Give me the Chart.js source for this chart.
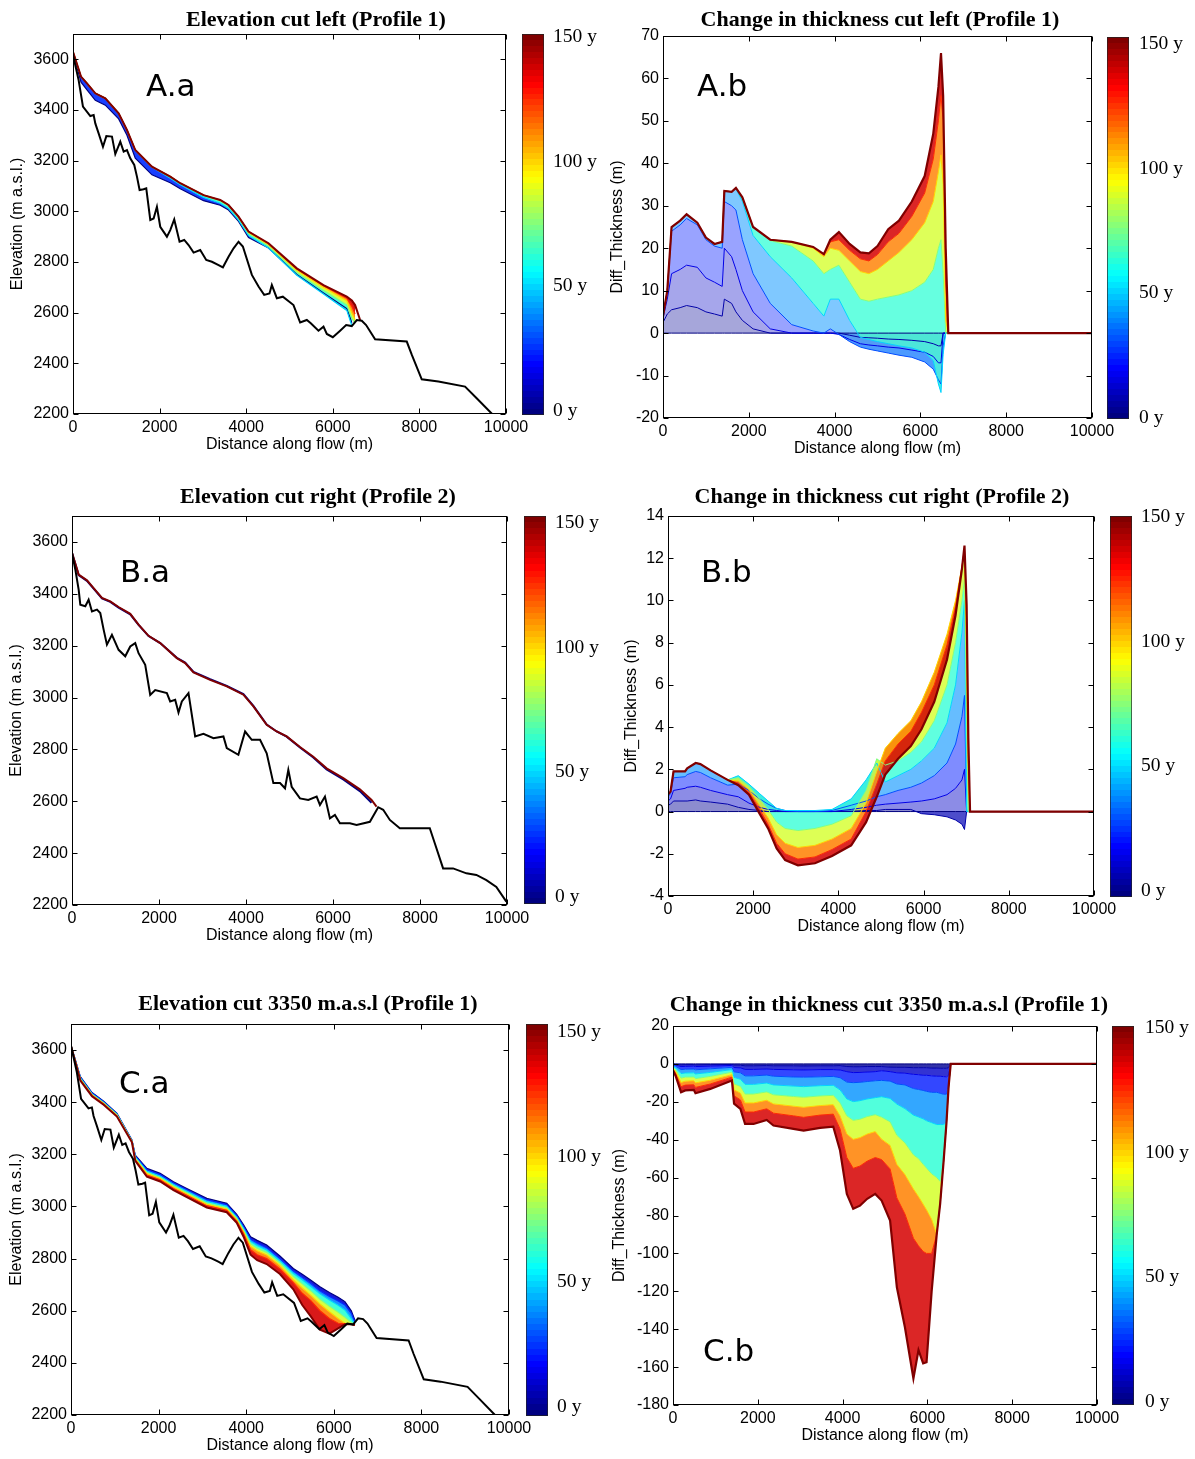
<!DOCTYPE html>
<html><head><meta charset="utf-8">
<script src="https://cdn.jsdelivr.net/npm/chart.js@4.4.1/dist/chart.umd.min.js"></script>
<style>
html,body{margin:0;padding:0;background:#fff;}
body{width:1195px;height:1459px;position:relative;overflow:hidden;}
canvas{position:absolute;}
</style></head><body>
<script>
// ---------------- DATA ----------------
const distTicks = [0, 2000, 4000, 6000, 8000, 10000];
const elevTicks = [2200, 2400, 2600, 2800, 3000, 3200, 3400, 3600];
const thickTicksA = [-20, -10, 0, 10, 20, 30, 40, 50, 60, 70];
const thickTicksB = [-4, -2, 0, 2, 4, 6, 8, 10, 12, 14];
const thickTicksC = [-180, -160, -140, -120, -100, -80, -60, -40, -20, 0, 20];
const cbTicks = [0, 50, 100, 150];
const yearsFan = [0, 6, 15, 30, 50, 75, 100, 125, 150];

// bedrock, profile 1
const bedX1 = [0,130,230,400,477,515,592,692,770,900,977,1092,1170,1246,1323,1415,1477,1538,1630,1692,1785,1862,1938,2015,2169,2246,2338,2461,2569,2669,2785,2938,3077,3208,3362,3462,3592,3708,3823,3923,4131,4285,4415,4538,4592,4708,4846,5092,5246,5400,5492,5669,5785,5862,6000,6169,6308,6438,6554,6669,6769,6977,7708,7823,8054,8438,9054,9323,9680];
const bedY1 = [3617,3518,3413,3376,3380,3347,3308,3255,3297,3295,3226,3275,3236,3242,3209,3183,3137,3084,3087,3091,2966,2972,3018,2939,2900,2926,2968,2880,2887,2867,2837,2847,2808,2801,2788,2779,2821,2854,2880,2861,2749,2703,2670,2676,2709,2657,2663,2630,2561,2571,2558,2529,2545,2516,2503,2529,2551,2547,2571,2568,2551,2495,2486,2434,2337,2328,2308,2262,2200];
// bedrock, profile 2
const bedX2 = [0,77,153,191,306,382,459,574,650,727,803,918,1071,1224,1339,1454,1530,1683,1798,1913,2181,2257,2372,2448,2525,2678,2831,3022,3252,3481,3558,3825,3979,4132,4323,4476,4629,4782,4897,4973,5050,5241,5432,5624,5700,5815,5929,6044,6159,6389,6542,6848,7039,7154,7307,7536,7919,8225,8340,8531,8761,9067,9296,9526,9755,9985];
const bedY2 = [3558,3493,3416,3358,3352,3377,3332,3339,3326,3262,3204,3242,3184,3159,3197,3210,3171,3126,3010,3029,3017,2985,2991,2942,2985,3017,2850,2860,2843,2850,2805,2779,2869,2837,2837,2785,2670,2670,2650,2721,2656,2611,2605,2618,2586,2618,2534,2547,2515,2515,2509,2521,2577,2567,2528,2496,2496,2496,2438,2341,2341,2322,2316,2296,2270,2213];

// A.a surfaces (years 0,50,75,100,125,150)
const yearsSurfA = [0, 50, 75, 100, 125, 150];
const xSA = [0,185,323,515,746,1054,1246,1438,1823,2246,2477,3015,3400,3592,3823,4054,4515,5169,5785,6323,6440,6515,6631];
const surfA0   = [3626,3510,3479,3438,3419,3365,3300,3210,3144,3113,3089,3042,3024,3005,2960,2897,2855,2751,2678,2616,2560,null,null];
const surfA50  = [3630,3532,3505,3466,3446,3387,3321,3241,3175,3131,3105,3055,3032,3011,2965,2904,2855,2748,2674,2609,2548,null,null];
const surfA75  = [3630,3532,3505,3466,3446,3387,3321,3242,3176,3137,3111,3063,3041,3021,2974,2913,2863,2759,2688,2631,2578,2558,null];
const surfA100 = [3630,3532,3505,3466,3446,3387,3321,3242,3176,3137,3111,3064,3044,3025,2978,2916,2869,2767,2700,2647,2600,2572,null];
const surfA125 = [3630,3532,3505,3466,3446,3387,3321,3242,3176,3137,3111,3064,3045,3025,2979,2920,2872,2772,2706,2657,2625,2595,null];
const surfA150 = [3630,3532,3505,3466,3446,3387,3321,3242,3176,3137,3111,3064,3045,3025,2979,2920,2874,2775,2709,2663,2648,2630,2571];

// A.b thickness change (m)
const xA = [0,100,200,400,550,800,1000,1200,1380,1430,1600,1700,1850,2100,2500,3000,3500,3750,3900,4100,4350,4600,4800,5000,5250,5500,5800,6100,6300,6420,6480,6530,6590,6650,10000];
const thickA_y0   = [0,0,0,0,0,0,0,0,0,0,0,0,0,0,0,0,0,0,0,0,0,0,0,0,0,0,0,0,0,0,0,0,0,0,0];
const thickA_y6   = [2.5,4.5,5.5,6,6.5,6,5,4.5,4, 8,7,5,3,1,0,0,0,0, 0,0,-0.5,-1,-1.1,-1.2,-1.4,-1.5,-1.7,-2,-2.5,-3,-3,0,0,0,0];
const thickA_y15  = [3.5,8,14,15,16,15.5,13,12,11, 20,18,15,10,5,1,0,0,0, 0,-0.3,-1.5,-2.5,-2.8,-3,-3.3,-3.5,-4,-4.5,-5.5,-7,-7,0,0,0,0];
const thickA_y30  = [4,10,24,25.5,27,25.5,22,20.5,20, 31,30,29,22,14,7,2,0.5,0, 1,-0.3,-2,-3.3,-3.8,-4.2,-4.7,-5.2,-5.7,-6.8,-8.5,-11,-12,-3,0,0,0];
const thickA_y50  = [4,10,25,26.5,28,26,22.5,21,21.5, 33.5,33.3,34,31,23,18,13,7,4, 8,8,3,-1,-1.5,-2,-2.5,-3,-3.5,-4.5,-6.5,-12,-14,-5,0,0,0];
const thickA_y75  = [4,10,25,26.5,28,26,22.5,21,21.5, 33.5,33.3,34.2,32,25,21.8,20.5,17,14, 15,16,12,8,7.5,8,8.5,9,10,12,15,20,22,14,0,0,0];
const thickA_y100 = [4,10,25,26.5,28,26,22.5,21,21.5, 33.5,33.3,34.2,32,25,22,21.5,20,18, 20,19.5,17,14.5,14,15,17,19,22,26,31,38,42,35,3,0,0];
const thickA_y125 = [4,10,25,26.5,28,26,22.5,21,21.5, 33.5,33.3,34.2,32,25,22,21.5,20.3,18.6, 21.5,22,19.5,17.5,17,18.5,21.5,23.5,27.5,33,41,50,56,50,12,0,0];
const thickA_y150 = [4,10,25,26.5,28,26,22.5,21,21.5, 33.5,33.3,34.2,32,25,22,21.5,20.3,18.6, 22,23.8,21,19,18.8,20.5,24.5,26.5,31,37,47,58,66,56,20,0,0];

// B.a surfaces
const yearsSurfB = [0, 150];
const xSB = [0,153,344,497,689,880,1071,1339,1530,1760,2028,2410,2601,2793,3175,3558,3940,4170,4476,4705,4935,5241,5547,5853,6236,6618,6886,7001];
const surfB0   = [3557,3472,3450,3420,3382,3369,3347,3321,3280,3237,3210,3153,3135,3099,3071,3045,3013,2968,2896,2869,2849,2807,2769,2723,2684,2639,2594,null];
const surfB150 = [3558,3474,3452,3422,3384,3371,3349,3323,3281,3238,3210,3152,3133,3097,3068,3043,3011,2966,2895,2869,2850,2809,2772,2727,2689,2646,2605,2579];

// B.b thickness change (m)
const xB = [0,60,130,400,450,650,760,1000,1400,1650,1900,2150,2350,2550,2750,3050,3450,3850,4300,4650,4900,5100,5400,5700,5950,6250,6550,6750,6900,6960,7010,7050,7090,10000];
const thickB_y0   = [0,0,0,0,0,0,0,0,0,0,0,0,0,0,0,0,0,0,0,0,0,0,0,0,0,0,0,0,0,0,0,0,0,0];
const thickB_y6   = [0.3,0.35,0.5,0.5,0.5,0.55,0.5,0.45,0.35, 0.2,0.1,0.05,0,0,0,0,0,0,0.02,0.05,0.05, 0.1,0.1,0.1,-0.1,-0.15,-0.25,-0.4,-0.6,-0.85,0,0,0,0];
const thickB_y15  = [0.5,0.6,1.0,1.1,1.15,1.2,1.15,1.0,0.8, 0.7,0.4,0.2,0.1,0.05,0,0,0,0,0.1,0.2,0.3, 0.35,0.4,0.45,0.5,0.6,0.8,1.1,1.5,2,0,0,0,0];
const thickB_y30  = [0.7,0.85,1.6,1.65,1.75,1.9,1.85,1.6,1.25, 1.3,1.0,0.6,0.35,0.15,0.05,0,0,0.05,0.3,0.5,0.7, 0.8,1.0,1.15,1.35,1.7,2.3,3.2,4.5,5.5,0,0,0,0];
const thickB_y50  = [0.8,0.95,1.9,1.9,2.05,2.3,2.25,1.95,1.5, 1.7,1.3,0.85,0.5,0.15,0.05,0.05,0.05,0.1,0.6,1.5,2.3, 1.4,1.7,2.0,2.4,3.0,4.2,6.0,8.5,10,0,0,0,0];
const thickB_y75  = [0.8,0.95,1.9,1.9,2.05,2.3,2.25,1.95,1.5, 1.6,1.2,0.6,0.1,-0.5,-0.8,-0.9,-0.8,-0.6,-0.2,1.0,2.5, 2.2,2.4,2.8,3.3,4.3,6.0,8.0,10.0,11,4,0,0,0];
const thickB_y100 = [0.8,0.95,1.9,1.9,2.05,2.3,2.25,1.95,1.5, 1.45,1.05,0.3,-0.3,-1.1,-1.5,-1.7,-1.6,-1.3,-0.8,0.4,1.9, 3.0,3.7,4.3,5.2,6.6,8.4,10.0,11.6,12.2,7,1,0,0];
const thickB_y125 = [0.8,0.95,1.9,1.9,2.05,2.3,2.25,1.95,1.5, 1.35,0.9,0.1,-0.6,-1.5,-2.0,-2.25,-2.15,-1.8,-1.3,0.0,1.3, 2.4,3.2,3.8,4.7,6.0,7.9,9.7,11.6,12.5,9,2.5,0,0];
const thickB_y150 = [0.8,0.95,1.9,1.9,2.05,2.3,2.25,1.95,1.5, 1.25,0.8,-0.1,-0.8,-1.75,-2.3,-2.55,-2.45,-2.1,-1.6,-0.5,0.7, 1.75,2.5,3.1,3.9,5.2,7.2,9.3,11.5,12.6,9.8,3.5,0,0];

// C.a surfaces (years 0,25,50,75,100,125,150)
const yearsSurfC = [0, 25, 50, 75, 100, 125, 150];
const xSC = [0,213,479,745,1049,1391,1467,1733,2036,2340,2644,3100,3556,3784,3940,4100,4250,4468,4770,5076,5280,5470,5684,5900,6100,6254,6400,6482];
const surfC0   = [3619,3498,3437,3404,3357,3255,3197,3146,3127,3095,3069,3031,3012,2970,2930,2884,2870,2852,2810,2762,2740,2718,2692,2670,2652,2635,2600,2564];
const surfC25  = [3618,3496,3435,3402,3355,3254,3194,3141,3122,3090,3064,3026,3007,2965,2923,2875,2860,2842,2800,2752,2728,2705,2677,2655,2637,2622,2590,2557];
const surfC50  = [3618,3493,3432,3399,3353,3252,3190,3135,3116,3084,3058,3019,3001,2959,2916,2866,2850,2833,2792,2744,2719,2694,2665,2641,2621,2603,2570,2548];
const surfC75  = [3617,3490,3430,3397,3351,3251,3186,3130,3111,3079,3053,3013,2995,2954,2910,2857,2840,2824,2783,2731,2703,2677,2644,2617,2594,2575,2555,2545];
const surfC100 = [3617,3488,3428,3395,3349,3249,3183,3126,3107,3075,3048,3008,2990,2949,2903,2847,2830,2814,2774,2719,2687,2660,2626,2596,2570,2552,2550,2545];
const surfC125 = [3616,3486,3426,3393,3347,3248,3179,3120,3102,3069,3043,3003,2985,2944,2896,2834,2815,2800,2760,2708,2667,2640,2600,2570,2552,2550,2548,2545];
const surfC150 = [3615,3483,3423,3390,3345,3246,3175,3114,3096,3063,3036,2996,2978,2937,2884,2815,2794,2779,2741,2682,2622,2579,2527,2512,2532,2548,2548,2545];

// C.b thickness change (m)
const xC = [0,60,190,290,490,530,880,1390,1440,1590,1700,1900,2210,2370,2840,3080,3470,3780,3940,4100,4250,4410,4580,4770,4920,5120,5280,5470,5670,5790,5900,5980,6100,6220,6300,6380,6450,6500,6550,10000];
const thickC_y0   = [0,0,0,0,0,0,0,0,0,0,0,0,0,0,0,0,0,0,0,0,0,0,0,0,0,0,0,0,0,0,0,0,0,0,0,0,0,0,0,0];
const thickC_y6   = [-0.1,-0.2,-0.5,-0.4,-0.4,-0.5,-0.4,-0.3, -0.6,-0.7,-1,-1,-0.9,-1,-1,-1.1,-1,-1, -0.9,-1.4,-1.5,-1.5,-1.4,-1.4,-1.4,-1.7,-1.8,-1.8, -2,-2,-2,-2,-2.2,-2.2,-2.3,-2.3,-2.3,-2,0,0];
const thickC_y15  = [-0.3,-0.6,-1.4,-1.3,-1.2,-1.4,-1.2,-0.8, -1.9,-2.1,-2.9,-2.9,-2.7,-2.9,-3.1,-3.2,-3,-3, -3.2,-4.1,-4.6,-4.5,-4.3,-4.1,-3.6,-4.1,-4.7,-4.9, -5.5,-5.7,-6,-6,-6.3,-6.5,-6.5,-6.7,-6.8,-6,0,0];
const thickC_y30  = [-0.7,-1.2,-3,-2.8,-2.7,-3.1,-2.6,-1.8, -4.2,-4.7,-6.3,-6.3,-5.9,-6.5,-6.9,-7,-6.8,-6.6, -7.3,-9.6,-9.9,-9.7,-9.3,-8.9,-8.7,-9.1,-10.6,-11.1, -13,-13.5,-14,-14.5,-15,-15,-15.5,-16,-16,-12,0,0];
const thickC_y50  = [-1.2,-2.1,-5.1,-4.8,-4.7,-5.3,-4.5,-3, -7.1,-8.1,-10.8,-10.8,-10.1,-11.1,-11.7,-12,-11.5,-11.3, -13.7,-18.5,-19.9,-19.4,-18.5,-17.8,-17.3,-18.2,-21.2,-23.6, -27,-28,-29,-30,-31,-32,-32,-32,-31,-12,0,0];
const thickC_y75  = [-1.8,-3.1,-7.5,-7,-6.9,-7.8,-6.6,-4.4, -10.5,-11.9,-15.9,-15.9,-14.8,-16.3,-17.2,-17.6,-16.9,-16.6, -20.6,-27.4,-29.8,-29.2,-27.8,-26.8,-28.1,-30.6,-37.7,-41.7, -48,-50,-53,-55,-58,-60,-62,-52,-31,-12,0,0];
const thickC_y100 = [-2.3,-4,-9.8,-9.1,-8.9,-10,-8.6,-5.7, -13.7,-15.4,-20.6,-20.6,-19.2,-21.1,-22.3,-22.9,-22,-21.5, -27.4,-37,-39.8,-38.9,-37,-35.7,-39.7,-43,-53,-58.4, -66,-70,-74,-77,-82,-90,-74,-52,-31,-12,0,0];
const thickC_y125 = [-2.8,-5,-12,-11.2,-11,-12.4,-10.6,-7, -16.8,-19,-25.4,-25.4,-23.7,-26,-27.4,-28.2,-27,-26.5, -34.3,-49.4,-55.1,-53.9,-51.3,-49.4,-50.5,-55.4,-70.7,-79.2, -92,-96,-99,-100,-100,-90,-74,-52,-31,-12,0,0];
const thickC_y150 = [-3.5,-6.2,-15,-14,-13.7,-15.5,-13.2,-8.8, -21,-23.7,-31.7,-31.7,-29.6,-32.5,-34.3,-35.2,-33.8,-33.1, -45.7,-68.6,-76.5,-74.8,-71.2,-68.6,-72.1,-82.7,-117.9,-139, -166,-151,-158,-157.4,-120,-90,-74,-52,-31,-12,0,0];

// ---------------- HELPERS ----------------
function jet(v){
  v = Math.max(0, Math.min(1, v));
  const c = t => Math.round(255 * Math.max(0, Math.min(1, t)));
  return [c(Math.min(4*v-1.5, -4*v+4.5)), c(Math.min(4*v-0.5, -4*v+3.5)), c(Math.min(4*v+0.5, -4*v+2.5))];
}
const rgba = (a, al) => `rgba(${a[0]},${a[1]},${a[2]},${al === undefined ? 1 : al})`;
const pts = (xs, ys) => xs.map((x, i) => ({x: x, y: ys[i]}));

const SANS = 'Liberation Sans, Arial, sans-serif';
const SERIF = 'Liberation Serif, Times New Roman, serif';

function fanDatasets(xs, profiles, years, alpha, widths){
  return profiles.map((p, i) => ({
    data: pts(xs, p),
    borderColor: rgba(jet(years[i] / 150)),
    borderWidth: years[i] === 150 ? widths[1] : widths[0],
    backgroundColor: i > 0 ? rgba(jet((years[i] + years[i-1]) / 300), Array.isArray(alpha) ? alpha[i] : alpha) : 'rgba(0,0,0,0)',
    fill: i > 0 ? '-1' : false,
    order: 200 - years[i],
    pointRadius: 0, tension: 0, spanGaps: false
  }));
}

const framePlugin = {
  id: 'frame',
  afterDatasetsDraw(chart){
    const {ctx, chartArea: a, scales: {x, y}} = chart;
    ctx.save();
    ctx.strokeStyle = '#000'; ctx.lineWidth = 1;
    const l = Math.round(a.left) + 0.5, t = Math.round(a.top) + 0.5, r = Math.round(a.right) - 0.5, b = Math.round(a.bottom) - 0.5;
    ctx.strokeRect(l, t, r - l, b - t);
    const tl = 5;
    ctx.beginPath();
    x.ticks.forEach(tk => { const px = Math.round(x.getPixelForValue(tk.value)) + 0.5;
      ctx.moveTo(px, b); ctx.lineTo(px, b - tl); ctx.moveTo(px, t); ctx.lineTo(px, t + tl); });
    y.ticks.forEach(tk => { const py = Math.round(y.getPixelForValue(tk.value)) + 0.5;
      ctx.moveTo(l, py); ctx.lineTo(l + tl, py); ctx.moveTo(r, py); ctx.lineTo(r - tl, py); });
    ctx.stroke();
    ctx.restore();
  }
};

function makePanel(o){
  const padTop = 14, padRight = 30, xAxH = 44;
  const cv = document.createElement('canvas');
  const W = (o.R - o.L) + o.yAxW + padRight, H = (o.B - o.T) + padTop + xAxH;
  cv.width = W; cv.height = H;
  cv.style.left = (o.L - o.yAxW) + 'px'; cv.style.top = (o.T - padTop) + 'px';
  document.body.appendChild(cv);
  new Chart(cv, {
    type: 'line',
    data: {datasets: o.datasets},
    options: {
      responsive: false, animation: false, devicePixelRatio: 1,
      layout: {padding: {left: 0, top: padTop, right: padRight, bottom: 0}},
      plugins: {legend: {display: false}, tooltip: {enabled: false}, filler: {drawTime: 'beforeDatasetsDraw'}},
      elements: {point: {radius: 0}, line: {tension: 0}},
      scales: {
        x: {type: 'linear', min: 0, max: 10000,
          afterBuildTicks: s => { s.ticks = distTicks.map(v => ({value: v})); },
          afterFit: s => { s.height = xAxH; },
          grid: {display: false, drawTicks: false}, border: {display: false},
          ticks: {color: '#000', font: {family: SANS, size: 16}, padding: 4, maxRotation: 0, autoSkip: false, callback: v => String(v)},
          title: {display: true, text: 'Distance along flow (m)', color: '#000', font: {family: SANS, size: 16}, padding: {top: 0, bottom: 4}}},
        y: {type: 'linear', min: o.yMin, max: o.yMax,
          afterBuildTicks: s => { s.ticks = o.yTicks.map(v => ({value: v})); },
          afterFit: s => { s.width = o.yAxW; },
          grid: {display: false, drawTicks: false}, border: {display: false},
          ticks: {color: '#000', font: {family: SANS, size: 16}, padding: 4, autoSkip: false, callback: v => String(v)},
          title: {display: true, text: o.yTitle, color: '#000', font: {family: SANS, size: 16}, padding: {top: 4, bottom: 0}}}
      }
    },
    plugins: [framePlugin]
  });
}

function makeColorbar(o){
  const pad = 26, axW = 70;
  const cv = document.createElement('canvas');
  cv.width = (o.R - o.L) + axW; cv.height = (o.B - o.T) + 2 * pad;
  cv.style.left = o.L + 'px'; cv.style.top = (o.T - pad) + 'px';
  document.body.appendChild(cv);
  new Chart(cv, {
    type: 'bar',
    data: {labels: [''], datasets: [{
      data: [[o.min, o.max]],
      backgroundColor: c => {
        const a = c.chart.chartArea; if (!a) return '#888';
        const g = c.chart.ctx.createLinearGradient(0, a.bottom, 0, a.top);
        const n = 64;
        for (let i = 0; i < n; i++) { const col = rgba(jet(i / (n - 1))); g.addColorStop(i / n, col); g.addColorStop((i + 1) / n, col); }
        return g;
      },
      borderColor: '#222', borderWidth: 1, borderSkipped: false,
      barPercentage: 1, categoryPercentage: 1
    }]},
    options: {
      responsive: false, animation: false, devicePixelRatio: 1,
      layout: {padding: {left: 0, right: 0, top: pad, bottom: pad}},
      plugins: {legend: {display: false}, tooltip: {enabled: false}},
      scales: {
        x: {display: false},
        y: {position: 'right', min: o.min, max: o.max,
          afterBuildTicks: s => { s.ticks = cbTicks.map(v => ({value: v})); },
          afterFit: s => { s.width = axW; },
          grid: {display: false, drawTicks: false}, border: {display: false},
          ticks: {color: '#000', font: {family: SERIF, size: 19.5}, padding: o.pad, callback: v => v + ' y'}}
      }
    }
  });
}

function placeText(txt, x, baseY, font, align){
  const c = document.createElement('canvas').getContext('2d');
  c.font = font;
  const m = c.measureText(txt);
  const asc = m.fontBoundingBoxAscent, desc = m.fontBoundingBoxDescent;
  const d = document.createElement('div');
  d.textContent = txt;
  d.style.position = 'absolute';
  d.style.font = font;
  d.style.lineHeight = (asc + desc) + 'px';
  d.style.whiteSpace = 'nowrap';
  d.style.color = '#000';
  d.style.top = (baseY - asc) + 'px';
  d.style.left = (align === 'center' ? x - m.width / 2 : x) + 'px';
  document.body.appendChild(d);
}

// ---------------- BUILD ----------------
const bedDs = (xs, ys) => ({data: pts(xs, ys), borderColor: '#000', borderWidth: 2, pointRadius: 0, fill: false, order: -1, tension: 0});

const alphaA = [0, 0.35, 0.35, 0.4, 0.5, 0.72, 0.78, 0.82, 0.85];
const alphaB = [0, 0.45, 0.45, 0.5, 0.6, 0.75, 0.8, 0.85, 0.85];
const alphaC = [0, 0.8, 0.8, 0.8, 0.8, 0.82, 0.85, 0.85, 0.85];

// A.a
makePanel({L: 73, T: 34, R: 506, B: 414, yAxW: 69, yMin: 2200, yMax: 3700, yTicks: elevTicks, yTitle: 'Elevation (m a.s.l.)',
  datasets: [bedDs(bedX1, bedY1)].concat(fanDatasets(xSA, [surfA0, surfA50, surfA75, surfA100, surfA125, surfA150], yearsSurfA, 0.9, [1.2, 2]))});
// A.b
makePanel({L: 663, T: 36, R: 1092, B: 418, yAxW: 59, yMin: -20, yMax: 70, yTicks: thickTicksA, yTitle: 'Diff_Thickness (m)',
  datasets: fanDatasets(xA, [thickA_y0, thickA_y6, thickA_y15, thickA_y30, thickA_y50, thickA_y75, thickA_y100, thickA_y125, thickA_y150], yearsFan, alphaA, [1, 2.2])});
// B.a
makePanel({L: 72, T: 516, R: 507, B: 905, yAxW: 69, yMin: 2200, yMax: 3700, yTicks: elevTicks, yTitle: 'Elevation (m a.s.l.)',
  datasets: [bedDs(bedX2, bedY2)].concat(fanDatasets(xSB, [surfB0, surfB150], yearsSurfB, 0.6, [2, 2]))});
// B.b
makePanel({L: 668, T: 516, R: 1094, B: 896, yAxW: 50, yMin: -4, yMax: 14, yTicks: thickTicksB, yTitle: 'Diff_Thickness (m)',
  datasets: fanDatasets(xB, [thickB_y0, thickB_y6, thickB_y15, thickB_y30, thickB_y50, thickB_y75, thickB_y100, thickB_y125, thickB_y150], yearsFan, alphaB, [1, 2.2])});
// C.a
makePanel({L: 71, T: 1024, R: 509, B: 1415, yAxW: 68, yMin: 2200, yMax: 3700, yTicks: elevTicks, yTitle: 'Elevation (m a.s.l.)',
  datasets: [bedDs(bedX1, bedY1)].concat(fanDatasets(xSC, [surfC0, surfC25, surfC50, surfC75, surfC100, surfC125, surfC150], yearsSurfC, 0.9, [1.2, 2]))});
// C.b
makePanel({L: 673, T: 1026, R: 1097, B: 1405, yAxW: 67, yMin: -180, yMax: 20, yTicks: thickTicksC, yTitle: 'Diff_Thickness (m)',
  datasets: fanDatasets(xC, [thickC_y0, thickC_y6, thickC_y15, thickC_y30, thickC_y50, thickC_y75, thickC_y100, thickC_y125, thickC_y150], yearsFan, alphaC, [1, 2.2])});

// colorbars
makeColorbar({L: 522, T: 34, R: 544, B: 415, min: -1.5, max: 151, pad: 9});
makeColorbar({L: 1107, T: 37, R: 1129, B: 419, min: -0.4, max: 152.8, pad: 10});
makeColorbar({L: 524, T: 516, R: 546, B: 904, min: -2.8, max: 152.8, pad: 9});
makeColorbar({L: 1110, T: 516, R: 1132, B: 897, min: -2.4, max: 150.4, pad: 9});
makeColorbar({L: 526, T: 1024, R: 548, B: 1416, min: -3.6, max: 153.2, pad: 9});
makeColorbar({L: 1112, T: 1026, R: 1134, B: 1405, min: -1.2, max: 150.8, pad: 11});

// titles
const TFONT = 'bold 22px ' + SERIF;
placeText('Elevation cut left (Profile 1)', 316, 26, TFONT, 'center');
placeText('Change in thickness cut left (Profile 1)', 880, 26, TFONT, 'center');
placeText('Elevation cut right (Profile 2)', 318, 503, TFONT, 'center');
placeText('Change in thickness cut right (Profile 2)', 882, 503, TFONT, 'center');
placeText('Elevation cut 3350 m.a.s.l (Profile 1)', 308, 1010, TFONT, 'center');
placeText('Change in thickness cut 3350 m.a.s.l (Profile 1)', 889, 1011, TFONT, 'center');

// panel labels
const LFONT = '31px DejaVu Sans, sans-serif';
placeText('A.a', 146, 96, LFONT, 'left');
placeText('A.b', 697, 96, LFONT, 'left');
placeText('B.a', 120, 582, LFONT, 'left');
placeText('B.b', 701, 582, LFONT, 'left');
placeText('C.a', 119, 1093, LFONT, 'left');
placeText('C.b', 703, 1361, LFONT, 'left');
</script>
</body></html>
